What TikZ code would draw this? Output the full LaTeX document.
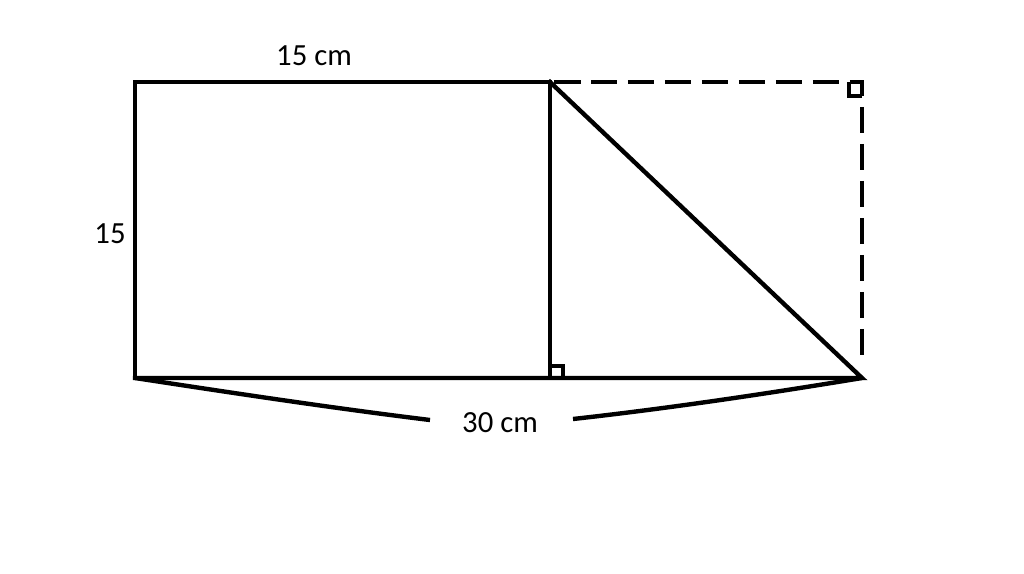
\documentclass[tikz,border=0pt]{standalone}
\usepackage{fontspec}
\setmainfont{Carlito}
\begin{document}
\begin{tikzpicture}[
x=0.02cm, y=-0.02cm,
edge/.style = {line width=2.5pt, line cap=rect},
dashedge/.style = {line width=2.5pt, dash pattern=on 0.53cm off 0.21cm},
ramark/.style = {line width=2pt},
lbl/.style = {inner sep=0pt, font=\fontsize{17.5}{21}\selectfont}
                        ]
%frame
\useasboundingbox (0,0) rectangle (1024,574);
%

% corners
\coordinate (A) at (135,378);
\coordinate (B) at (135,82);
\coordinate (C) at (550,82);
\coordinate (D) at (550,378);
\coordinate (E) at (862,82);
\coordinate (F) at (862,378);

% square and triangle
\draw[edge] (A) -- (B) -- (C) -- (D);
\draw[edge] (A) -- (F) -- (C);
\draw[dashedge] (554,82) -- (E) -- (862,362);

% right angle marks
\draw[ramark] (D) ++(0,-12) -- ++(13,0) -- ++(0,12);
\draw[ramark] (E) ++(-13,0) -- ++(0,14) -- ++(13,0);

% labels
\node[lbl] (top) at (314,56) {15 cm};
\node[lbl] (side) at (110,234) {15};
\node[lbl] (bot) at (500,423) {30 cm};

% bottom brace
\coordinate (bl) at (430,420);
\coordinate (br) at (573,419);
\draw[edge, line cap=butt] (A) .. controls (233,393) and (332,408) .. (bl);
\draw[edge, line cap=butt] (br) .. controls (672,408) and (771,393) .. (F);

\end{tikzpicture}
\end{document}
